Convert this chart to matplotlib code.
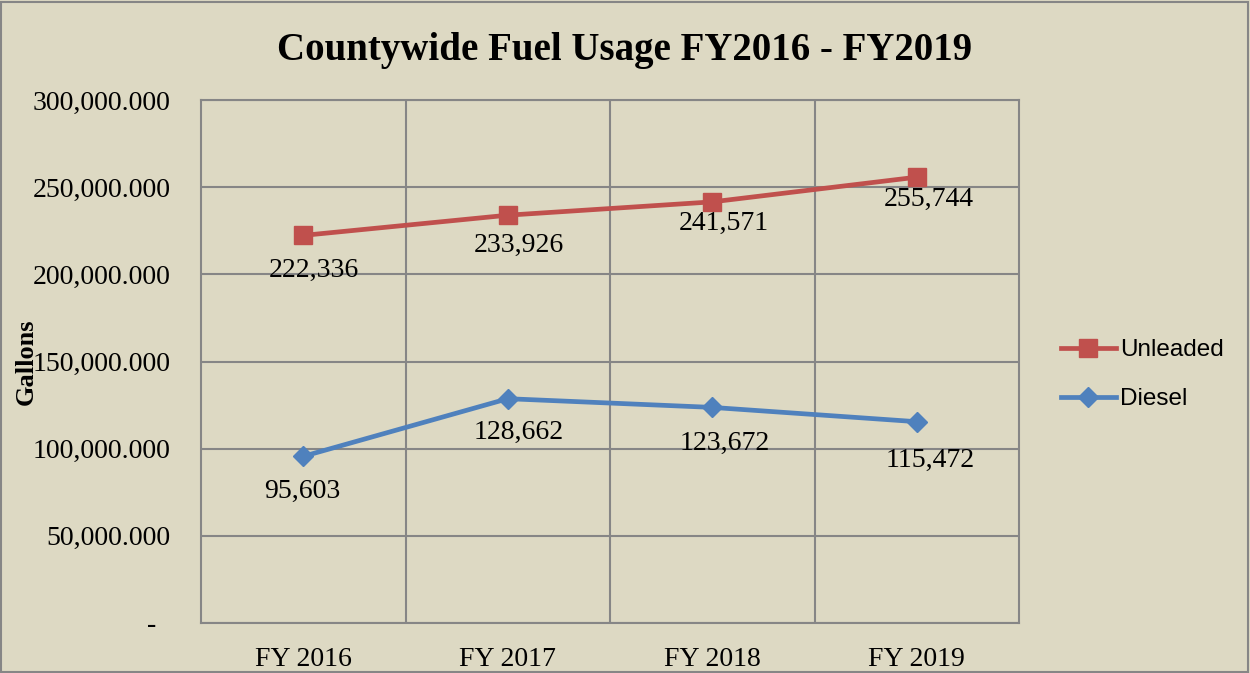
import matplotlib.pyplot as plt
from matplotlib.ticker import FuncFormatter, FixedLocator
from matplotlib.patches import Rectangle

years = ["FY 2016", "FY 2017", "FY 2018", "FY 2019"]
unleaded = [222336, 233926, 241571, 255744]
diesel = [95603, 128662, 123672, 115472]

# where each data label sits relative to its point (pixels, baseline)
unleaded_offsets = [(11, -42), (11, -37), (12, -28), (12, -29)]
diesel_offsets = [(-1, -42), (11, -40), (12, -43), (13, -45)]

bg = "#DDD9C3"
grid_col = "#868686"
red = "#C0504D"
blue = "#4F81BD"
serif = "Liberation Serif"

fig = plt.figure(figsize=(12.5, 6.73), dpi=100, facecolor=bg)
ax = fig.add_axes([0.1608, 0.0743, 0.6544, 0.7771], facecolor=bg)

x = list(range(len(years)))
ax.plot(x, unleaded, color=red, lw=3.4, marker="s", ms=13.5, label="Unleaded", zorder=3)
ax.plot(x, diesel, color=blue, lw=3.4, marker="D", ms=10, label="Diesel", zorder=3)

for xi, v, off in zip(x, unleaded, unleaded_offsets):
    ax.annotate(f"{v:,}", (xi, v), xytext=off, textcoords="offset pixels",
                ha="center", va="baseline", fontsize=20, family=serif)
for xi, v, off in zip(x, diesel, diesel_offsets):
    ax.annotate(f"{v:,}", (xi, v), xytext=off, textcoords="offset pixels",
                ha="center", va="baseline", fontsize=20, family=serif)

ax.set_xlim(-0.5, 3.5)
ax.set_ylim(0, 300000)
ax.set_yticks(range(0, 300001, 50000))
ax.yaxis.set_major_formatter(FuncFormatter(lambda v, p: "-  " if v == 0 else f"{v:,.3f}"))
ax.set_xticks(x)
ax.set_xticklabels(years)
ax.xaxis.set_minor_locator(FixedLocator([0.5, 1.5, 2.5]))
ax.grid(True, axis="y", color=grid_col, lw=1.5)
ax.grid(True, axis="x", which="minor", color=grid_col, lw=1.5)
ax.tick_params(axis="both", which="both", length=0)
ax.tick_params(axis="y", pad=22, labelsize=20)
ax.tick_params(axis="x", pad=17, labelsize=20)
for lab in ax.get_xticklabels() + ax.get_yticklabels():
    lab.set_family(serif)
for s in ax.spines.values():
    s.set_color(grid_col)
    s.set_linewidth(1.5)

ax.set_ylabel("Gallons", family=serif, fontweight="bold", fontsize=19)
ax.yaxis.set_label_coords(-0.2, 0.5)

fig.text(0.5, 0.9108, "Countywide Fuel Usage FY2016 - FY2019", ha="center", va="baseline",
         family=serif, fontweight="bold", fontsize=28)

fig.legend(loc="center left", bbox_to_anchor=(0.831, 0.443), frameon=False,
           prop={"family": "Liberation Sans", "size": 17.5}, handlelength=2.26,
           labelspacing=1.1, handletextpad=0.2)

fig.patches.append(Rectangle((0.001, 0.002), 0.997, 0.995, transform=fig.transFigure,
                             fill=False, edgecolor=grid_col, lw=1.5))

fig.savefig("out.png", dpi=100, facecolor=bg)
